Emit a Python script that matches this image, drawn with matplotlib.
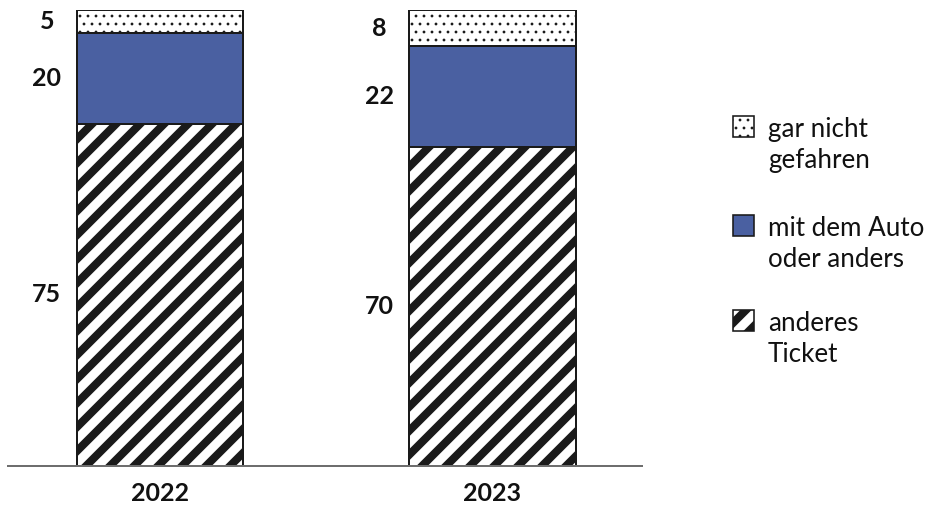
import matplotlib
matplotlib.use('Agg')
import matplotlib.pyplot as plt
from matplotlib.patches import Rectangle

# Daten
years = ['2022', '2023']
anderes_ticket = [75, 70]
auto_oder_anders = [20, 22]
gar_nicht = [5, 8]

legend_labels = ['gar nicht\ngefahren', 'mit dem Auto\noder anders', 'anderes\nTicket']

BLUE = '#4a60a1'
EDGE = '#1a1a1a'
DPI = 144
STRIPE_LW = 4.0
DOT_LW = 0.6

plt.rcParams['font.family'] = ['Lato', 'DejaVu Sans']

fig = plt.figure(figsize=(927 / DPI, 506 / DPI), dpi=DPI)
ax = fig.add_axes([8 / 927, 40 / 506, 634 / 927, 456 / 506])

x = list(range(len(years)))
width = 0.5


def set_hatch_lw(bars, lw):
    for b in bars:
        if hasattr(b, 'set_hatch_linewidth'):
            b.set_hatch_linewidth(lw)


# untere Segmente (gestreift)
plt.rcParams['hatch.linewidth'] = STRIPE_LW
b1 = ax.bar(x, anderes_ticket, width, color='white', edgecolor=EDGE,
            linewidth=1.0, hatch='//')
set_hatch_lw(b1, STRIPE_LW)

b2 = ax.bar(x, auto_oder_anders, width, bottom=anderes_ticket, color=BLUE,
            edgecolor=EDGE, linewidth=1.0)

# obere Segmente (gepunktet)
plt.rcParams['hatch.linewidth'] = DOT_LW
bottom3 = [a + b for a, b in zip(anderes_ticket, auto_oder_anders)]
b3 = ax.bar(x, gar_nicht, width, bottom=bottom3, color='white',
            edgecolor=EDGE, linewidth=1.0, hatch='...')
set_hatch_lw(b3, DOT_LW)

# Werte links neben den Balken
for i in x:
    starts = [0, anderes_ticket[i], bottom3[i]]
    vals = [anderes_ticket[i], auto_oder_anders[i], gar_nicht[i]]
    for s, v in zip(starts, vals):
        ax.text(i - 0.34, s + v / 2, str(v), ha='center', va='center',
                fontsize=12.5, fontweight='bold', color='#111111')

ax.set_xlim(-0.457, 1.45)
ax.set_ylim(0, 100)
ax.set_xticks(x)
ax.set_xticklabels(years, fontsize=12.5, fontweight='bold', color='#111111')
ax.tick_params(axis='x', length=0, pad=8)
ax.set_yticks([])
for side in ['top', 'right', 'left']:
    ax.spines[side].set_visible(False)
ax.spines['bottom'].set_color('#6e6e6e')
ax.spines['bottom'].set_linewidth(1.0)

# Legende (manuell, Quadrat an der ersten Zeile)
W, H = 927, 506
tops = [116, 215, 310]
styles = [
    dict(facecolor='white', hatch='...', hlw=DOT_LW),
    dict(facecolor=BLUE, hatch=None, hlw=DOT_LW),
    dict(facecolor='white', hatch='//', hlw=STRIPE_LW),
]
sq = 21
for top, lab, st in zip(tops, legend_labels, styles):
    plt.rcParams['hatch.linewidth'] = st['hlw']
    r = Rectangle((733 / W, 1 - (top + sq) / H), sq / W, sq / H,
                  transform=fig.transFigure, facecolor=st['facecolor'],
                  edgecolor=EDGE, linewidth=0.8, hatch=st['hatch'])
    if hasattr(r, 'set_hatch_linewidth'):
        r.set_hatch_linewidth(st['hlw'])
    fig.add_artist(r)
    fig.text(768 / W, 1 - (top + 1) / H, lab, ha='left', va='top',
             fontsize=13, color='#111111', linespacing=1.3)

fig.savefig('out.png', dpi=DPI)
